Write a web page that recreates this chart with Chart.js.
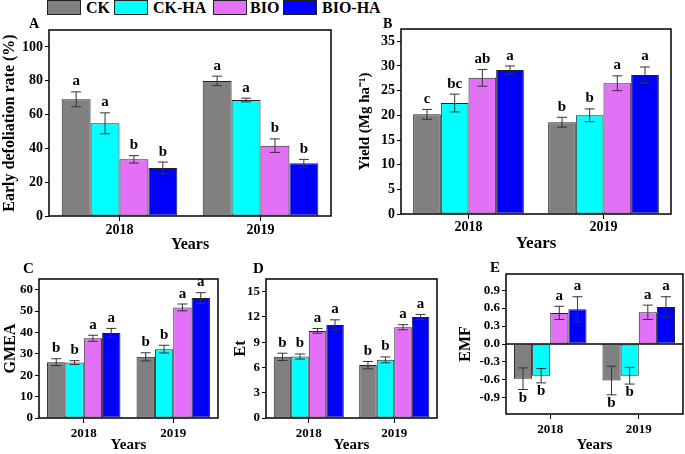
<!DOCTYPE html>
<html>
<head>
<meta charset="utf-8">
<script src="https://cdn.jsdelivr.net/npm/chart.js@4.4.1/dist/chart.umd.min.js"></script>
<style>
  body { margin: 0; width: 685px; height: 454px; background: #fff; position: relative; overflow: hidden; font-family: "Liberation Serif", serif; }
  canvas { position: absolute; }
  .key { position: absolute; top: 0; width: 34px; height: 15px; border: 1px solid #222; box-sizing: border-box; }
  .keytxt { position: absolute; top: -2px; font-weight: bold; font-size: 16px; line-height: 20px; color: #000; }
</style>
</head>
<body>
<div class="key" style="left:47px;background:#808080"></div><div class="keytxt" style="left:86px">CK</div>
<div class="key" style="left:114px;background:#00ffff"></div><div class="keytxt" style="left:153px">CK-HA</div>
<div class="key" style="left:213px;background:#e271f8"></div><div class="keytxt" style="left:250px">BIO</div>
<div class="key" style="left:283px;background:#0000ff"></div><div class="keytxt" style="left:322px">BIO-HA</div>

<canvas id="panelA"></canvas>
<canvas id="panelB"></canvas>
<canvas id="panelC"></canvas>
<canvas id="panelD"></canvas>
<canvas id="panelE"></canvas>

<script>
const YEARS = ['2018', '2019'];
const TREATMENTS = ['CK', 'CK-HA', 'BIO', 'BIO-HA'];

// rows follow TREATMENTS, columns follow YEARS
// A - early defoliation rate (%)
const defolMean = [[69.0, 79.9], [54.8, 68.6], [33.5, 41.6], [28.4, 31.2]];
const defolErr = [[4.4, 2.8], [6.2, 1.1], [2.2, 4.0], [3.5, 2.3]];
const defolSig = [['a', 'a'], ['a', 'a'], ['b', 'b'], ['b', 'b']];
const defolTicks = [0, 20, 40, 60, 80, 100];

// B - yield
const yieldMean = [[20.2, 18.6], [22.5, 20.0], [27.6, 26.5], [29.2, 28.2]];
const yieldErr = [[1.0, 1.0], [1.8, 1.3], [1.7, 1.5], [0.8, 1.6]];
const yieldSig = [['c', 'b'], ['bc', 'b'], ['ab', 'a'], ['a', 'a']];
const yieldTicks = [0, 5, 10, 15, 20, 25, 30, 35];

// C - GMEA
const gmeaMean = [[26.1, 28.6], [25.9, 32.2], [37.3, 51.7], [39.8, 56.1]];
const gmeaErr = [[1.6, 1.9], [0.9, 1.8], [1.4, 1.6], [2.1, 2.5]];
const gmeaSig = [['b', 'b'], ['b', 'b'], ['a', 'a'], ['a', 'a']];
const gmeaTicks = [0, 10, 20, 30, 40, 50, 60];

// D - Et
const etMean = [[7.26, 6.28], [7.3, 6.9], [10.34, 10.78], [11.05, 12.0]];
const etErr = [[0.43, 0.43], [0.3, 0.35], [0.28, 0.3], [0.6, 0.3]];
const etSig = [['b', 'b'], ['b', 'b'], ['a', 'a'], ['a', 'a']];
const etTicks = [0, 3, 6, 9, 12, 15];

// E - EMF
const emfMean = [[-0.58, -0.61], [-0.53, -0.53], [0.52, 0.53], [0.58, 0.62]];
const emfErr = [[0.18, 0.24], [0.12, 0.14], [0.11, 0.12], [0.21, 0.17]];
const emfSig = [['b', 'b'], ['b', 'b'], ['a', 'a'], ['a', 'a']];
const emfTicks = [-0.9, -0.6, -0.3, 0, 0.3, 0.6, 0.9];

const FILLS = ['#808080', '#00ffff', '#e271f8', '#0000ff'];
const FONT = 'Liberation Serif';

function makePanel(id, p) {
  const cv = document.getElementById(id);
  const [bl, bt, bw, bh] = p.box;
  cv.width = bw; cv.height = bh;
  cv.style.left = bl + 'px'; cv.style.top = bt + 'px';

  // error bars, significance letters, frame and panel tag
  const decor = {
    id: 'decor_' + id,
    afterDatasetsDraw(chart) {
      const { ctx, chartArea: a } = chart;
      const y = chart.scales.y;
      ctx.save();
      if (p.zero) {
        const y0 = y.getPixelForValue(0);
        ctx.strokeStyle = '#000'; ctx.lineWidth = 1.5;
        ctx.beginPath(); ctx.moveTo(a.left, y0); ctx.lineTo(a.right, y0); ctx.stroke();
      }
      ctx.font = 'bold 15px ' + FONT;
      ctx.textAlign = 'center';
      ctx.fillStyle = '#000';
      chart.data.datasets.forEach((ds, i) => {
        chart.getDatasetMeta(i).data.forEach((bar, j) => {
          const m = p.mean[i][j], e = p.err[i][j];
          const hi = y.getPixelForValue(m + e), lo = y.getPixelForValue(m - e);
          ctx.strokeStyle = '#333'; ctx.lineWidth = 1;
          ctx.beginPath();
          ctx.moveTo(bar.x, hi); ctx.lineTo(bar.x, lo);
          ctx.moveTo(bar.x - 5, hi); ctx.lineTo(bar.x + 5, hi);
          ctx.moveTo(bar.x - 5, lo); ctx.lineTo(bar.x + 5, lo);
          ctx.stroke();
          if (m >= 0) {
            ctx.textBaseline = 'alphabetic';
            ctx.fillText(p.sig[i][j], bar.x, hi - 6.5);
          } else {
            ctx.textBaseline = 'top';
            ctx.fillText(p.sig[i][j], bar.x, lo + 1);
          }
        });
      });
      ctx.strokeStyle = '#000'; ctx.lineWidth = 1.5;
      ctx.strokeRect(a.left, a.top, a.right - a.left, a.bottom - a.top);
      ctx.font = 'bold ' + p.tagSize + 'px ' + FONT;
      ctx.textAlign = 'left'; ctx.textBaseline = 'alphabetic';
      ctx.fillText(p.tag, a.left + p.tagDx, a.top + p.tagDy);
      ctx.restore();
    }
  };

  new Chart(cv, {
    type: 'bar',
    data: {
      labels: YEARS,
      datasets: TREATMENTS.map((t, i) => ({
        label: t,
        data: p.mean[i],
        backgroundColor: FILLS[i],
        borderColor: '#222',
        borderWidth: 1,
        borderSkipped: false
      }))
    },
    options: {
      responsive: false,
      animation: false,
      layout: { padding: { left: 0, top: p.plot[1] - bt, right: bl + bw - p.plot[2], bottom: 0 } },
      datasets: { bar: { categoryPercentage: 0.82, barPercentage: 1 } },
      plugins: { legend: { display: false }, tooltip: { enabled: false } },
      scales: {
        x: {
          grid: { display: true, drawOnChartArea: false, offset: false, tickLength: 5, color: '#000' },
          border: { display: false },
          ticks: { color: '#000', font: { family: FONT, size: p.tickSize, weight: 'bold' }, padding: p.xPad },
          title: { display: true, text: 'Years', color: '#000', padding: 0,
                   font: { family: FONT, size: p.yearsSize, weight: 'bold', lineHeight: 1.2 } },
          afterFit: s => { s.height = bt + bh - p.plot[3]; }
        },
        y: {
          min: p.min, max: p.max,
          grid: { display: true, drawOnChartArea: false, tickLength: 4, color: '#000' },
          border: { display: false },
          ticks: { color: '#000', font: { family: FONT, size: p.tickSize, weight: 'bold' }, padding: 2,
                   callback: v => p.digits ? v.toFixed(p.digits) : v },
          afterBuildTicks: s => { s.ticks = p.ticks.map(v => ({ value: v })); },
          title: { display: true, text: p.yTitle, color: '#000', padding: { top: p.titlePad, bottom: 0 },
                   font: { family: FONT, size: p.titleSize, weight: 'bold', lineHeight: 1.2 } },
          afterFit: s => { s.width = p.plot[0] - bl; }
        }
      }
    },
    plugins: [decor]
  });
}

makePanel('panelA', {
  box: [0, 16, 340, 238], plot: [49, 30, 331, 216],
  mean: defolMean, err: defolErr, sig: defolSig, ticks: defolTicks, min: 0, max: 110,
  yTitle: 'Early defoliation rate (%)', titleSize: 16, titlePad: 0, xPad: 1, tickSize: 14, yearsSize: 16,
  tag: 'A', tagSize: 14, tagDx: -20, tagDy: -2
});
makePanel('panelB', {
  box: [340, 16, 345, 238], plot: [401, 29, 671, 214],
  mean: yieldMean, err: yieldErr, sig: yieldSig, ticks: yieldTicks, min: 0, max: 37.5,
  yTitle: 'Yield (Mg ha\u207B\u00B9)', titleSize: 15, titlePad: 16, xPad: 0, tickSize: 14, yearsSize: 17,
  tag: 'B', tagSize: 14, tagDx: -18, tagDy: -1
});
makePanel('panelC', {
  box: [0, 258, 228, 196], plot: [39, 279, 218, 418],
  mean: gmeaMean, err: gmeaErr, sig: gmeaSig, ticks: gmeaTicks, min: 0, max: 65,
  yTitle: 'GMEA', titleSize: 16, titlePad: 1, xPad: 3, tickSize: 13, yearsSize: 15,
  tag: 'C', tagSize: 15, tagDx: -16, tagDy: -6
});
makePanel('panelD', {
  box: [228, 258, 227, 196], plot: [266, 279, 437, 418],
  mean: etMean, err: etErr, sig: etSig, ticks: etTicks, min: 0, max: 16.5,
  yTitle: 'Et', titleSize: 16, titlePad: 3, xPad: 3, tickSize: 13, yearsSize: 15,
  tag: 'D', tagSize: 15, tagDx: -13, tagDy: -6
});
makePanel('panelE', {
  box: [455, 258, 230, 196], plot: [506, 274, 683, 414],
  mean: emfMean, err: emfErr, sig: emfSig, ticks: emfTicks, min: -1.17, max: 1.17, digits: 1, zero: true,
  yTitle: 'EMF', titleSize: 16, titlePad: 1, xPad: 3, tickSize: 13, yearsSize: 15,
  tag: 'E', tagSize: 15, tagDx: -16, tagDy: -2
});
</script>
</body>
</html>
